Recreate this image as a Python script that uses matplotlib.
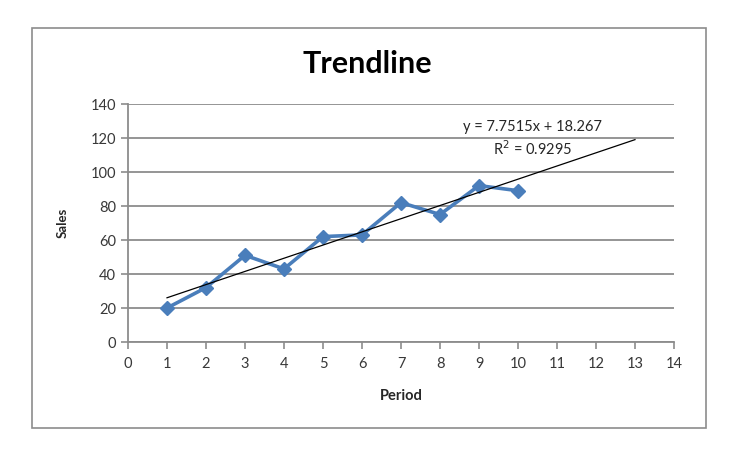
import matplotlib
matplotlib.use("Agg")
import matplotlib.pyplot as plt
import numpy as np
from matplotlib.patches import Rectangle

period = [1, 2, 3, 4, 5, 6, 7, 8, 9, 10]
sales = [20, 32, 51, 43, 62, 63, 82, 75, 92, 89]
x_ticks = list(range(0, 15))
y_ticks = list(range(0, 141, 20))
trend_end = 13

plt.rcParams['font.family'] = ['Lato', 'DejaVu Sans']

fig = plt.figure(figsize=(7.39, 4.63), dpi=100)
fig.patch.set_facecolor('white')
fig.patches.append(Rectangle((32/739, 1-428/463), (706-32)/739, (428-28)/463,
                             transform=fig.transFigure, fill=False,
                             edgecolor='#8c8c8c', linewidth=1.2))

ax = fig.add_axes([128/739, 1-342/463, (674-128)/739, (342-104)/463])

slope, intercept = np.polyfit(period, sales, 1)
yhat = np.polyval([slope, intercept], period)
r2 = 1 - np.sum((np.array(sales) - yhat)**2) / np.sum((np.array(sales) - np.mean(sales))**2)

ax.set_xlim(0, 14)
ax.set_ylim(0, 140)
ax.set_xticks(x_ticks)
ax.set_yticks(y_ticks)
ax.yaxis.grid(True, color='#8c8c8c', linewidth=1.3)
ax.set_axisbelow(True)
for s in ['top', 'right']:
    ax.spines[s].set_visible(False)
for s in ['left', 'bottom']:
    ax.spines[s].set_color('#8c8c8c')
    ax.spines[s].set_linewidth(1.3)
ax.tick_params(axis='both', direction='out', color='#8c8c8c', width=1.2, length=5,
               labelsize=10.5, labelcolor='#383838')
ax.tick_params(axis='x', pad=6)

ax.plot(period, sales, color='#4a7ebb', linewidth=2.6, marker='D', markersize=7,
        zorder=3)
xt = np.array([period[0], trend_end])
ax.plot(xt, slope * xt + intercept, color='black', linewidth=0.9, zorder=4)

ax.text(10.38, 126.5, f"y = {slope:.4f}x + {intercept:.3f}", fontsize=10.5,
        color='#262626', ha='center', va='center')
ax.text(10.38, 114, f"R$^2$ = {r2:.4f}", fontsize=10.5,
        color='#262626', ha='center', va='center')

fig.text(367/739, 1-64/463, 'Trendline', fontsize=22, fontweight='bold',
         ha='center', va='center', color='black')
ax.set_xlabel('Period', fontsize=10.5, fontweight='bold', color='#262626', labelpad=13)
ax.set_ylabel('Sales', fontsize=9.5, fontweight='bold', color='#262626', labelpad=16)

fig.savefig('out.png', dpi=100)
